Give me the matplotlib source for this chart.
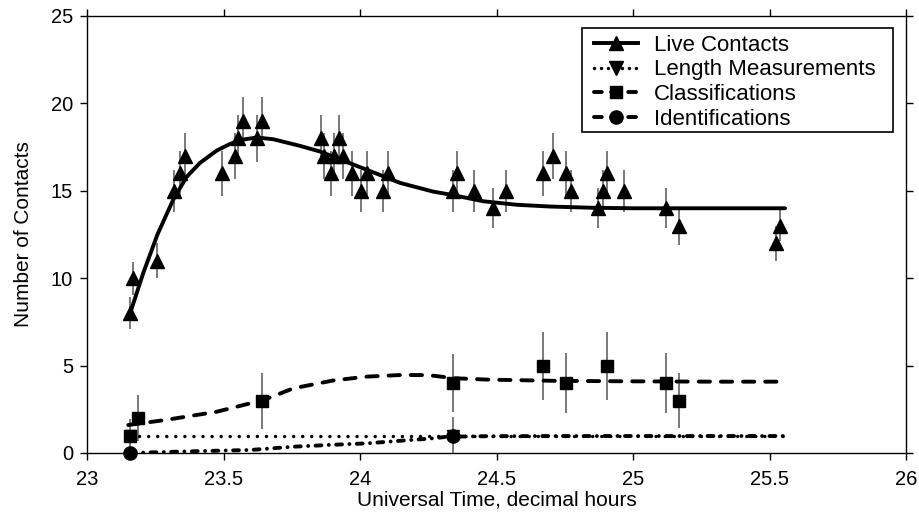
import matplotlib
matplotlib.use('Agg')
from matplotlib import pyplot as plt
from matplotlib.lines import Line2D
from matplotlib.patches import Rectangle

plt.rcParams['font.family'] = ['Liberation Sans', 'DejaVu Sans']

# Live contacts
live_t = [23.158, 23.170, 23.258, 23.319, 23.341, 23.359, 23.493, 23.542,
          23.554, 23.573, 23.624, 23.640, 23.856, 23.868, 23.893, 23.905,
          23.923, 23.938, 23.970, 24.004, 24.025, 24.084, 24.103, 24.340,
          24.354, 24.418, 24.487, 24.535, 24.669, 24.706, 24.755, 24.773,
          24.871, 24.889, 24.904, 24.968, 25.121, 25.170, 25.523, 25.538]
live_n = [8, 10, 11, 15, 16, 17, 16, 17, 18, 19, 18, 19, 18, 17, 16, 17,
          18, 17, 16, 15, 16, 15, 16, 15, 16, 15, 14, 15, 16, 17, 16, 15,
          14, 15, 16, 15, 14, 13, 12, 13]
live_err = [0.9, 0.95, 1.0, 1.2, 1.28, 1.3, 1.28, 1.3, 1.35, 1.38, 1.35, 1.38,
            1.35, 1.3, 1.28, 1.3, 1.35, 1.3, 1.28, 1.2, 1.28, 1.2, 1.28, 1.2,
            1.28, 1.2, 1.15, 1.2, 1.28, 1.3, 1.28, 1.2, 1.15, 1.2, 1.28, 1.2,
            1.15, 1.1, 1.0, 0.9]

# Length measurements
length_t = [23.158, 24.340]
length_n = [1, 1]

# Classifications
class_t = [23.158, 23.188, 23.641, 24.340, 24.669, 24.755, 24.904, 25.121, 25.170]
class_n = [1, 2, 3, 4, 5, 4, 5, 4, 3]
class_err = [0.95, 1.3, 1.6, 1.65, 1.95, 1.7, 1.95, 1.7, 1.55]

# Identifications
ident_t = [23.158, 24.340]
ident_n = [0, 1]
ident_err = [0.0, 1.05]

# fitted curves
live_fit_t = [23.158, 23.206, 23.258, 23.316, 23.365, 23.414, 23.475, 23.520,
              23.560, 23.622, 23.682, 23.780, 23.853, 23.902, 24.025, 24.147,
              24.269, 24.342, 24.452, 24.574, 24.696, 24.85, 25.0, 25.2,
              25.4, 25.557]
live_fit_n = [8.0, 10.3, 12.5, 14.5, 15.8, 16.6, 17.3, 17.65, 17.9, 18.05,
              17.95, 17.57, 17.25, 16.95, 16.2, 15.45, 14.95, 14.75, 14.4,
              14.2, 14.1, 14.03, 14.0, 14.0, 14.0, 14.0]

length_fit_t = [23.158, 25.55]
length_fit_n = [1.0, 1.0]

class_fit_t = [23.151, 23.292, 23.475, 23.646, 23.756, 23.902, 24.025, 24.147,
               24.22, 24.269, 24.342, 24.464, 24.708, 25.0, 25.3, 25.563]
class_fit_n = [1.6, 1.9, 2.36, 3.03, 3.7, 4.15, 4.37, 4.46, 4.46, 4.42, 4.28,
               4.2, 4.13, 4.1, 4.08, 4.08]

ident_fit_t = [23.157, 23.414, 23.597, 23.756, 23.90, 24.025, 24.147, 24.269,
               24.318, 24.45, 24.7, 25.0, 25.3, 25.55]
ident_fit_n = [0.0, 0.11, 0.17, 0.36, 0.47, 0.55, 0.70, 0.84, 0.93, 0.96,
               0.97, 0.97, 0.97, 0.97]

x_ticks = [23, 23.5, 24, 24.5, 25, 25.5, 26]
x_labels = ['23', '23.5', '24', '24.5', '25', '25.5', '26']
y_ticks = [0, 5, 10, 15, 20, 25]

BAR = '#555555'

fig = plt.figure(figsize=(9.2, 5.16), dpi=100)
ax = fig.add_axes([0.0946, 0.1221, 0.8902, 0.8469])

# error bars first, behind everything
ax.errorbar(live_t, live_n, yerr=live_err, fmt='none', ecolor=BAR,
            elinewidth=1.1, capsize=0, zorder=1)
ax.errorbar(class_t, class_n, yerr=class_err, fmt='none', ecolor=BAR,
            elinewidth=1.1, capsize=0, zorder=1)
ax.errorbar(ident_t, ident_n, yerr=ident_err, fmt='none', ecolor=BAR,
            elinewidth=1.1, capsize=0, zorder=1)

# curves
ax.plot(live_fit_t, live_fit_n, '-', color='k', lw=2.8,
        solid_capstyle='round', solid_joinstyle='round', zorder=2)
ax.plot(length_fit_t, length_fit_n, color='k', lw=2.5,
        linestyle=(0, (0.01, 2.6)), dash_capstyle='round', zorder=2)
ax.plot(class_fit_t, class_fit_n, color='k', lw=2.8,
        linestyle=(0, (2.9, 2.8)), dash_capstyle='round', zorder=2)
ax.plot(ident_fit_t, ident_fit_n, color='k', lw=2.8,
        linestyle=(0, (1.5, 1.9, 0.01, 1.9)), dash_capstyle='round', zorder=2)

# markers
ax.plot(live_t, live_n, '^', color='k', ms=10.5, ls='none', zorder=3)
ax.plot(length_t, length_n, 'v', color='k', ms=9, ls='none', zorder=3)
ax.plot(class_t, class_n, 's', color='k', ms=8.6, ls='none', zorder=4)
ax.plot(ident_t, ident_n, 'o', color='k', ms=9.5, ls='none', zorder=5,
        clip_on=False)

ax.set_xlim(23, 26)
ax.set_ylim(0, 25)
ax.set_xticks(x_ticks)
ax.set_xticklabels(x_labels)
ax.set_yticks(y_ticks)
ax.tick_params(direction='out', length=5, width=1, labelsize=14.5,
               top=True, right=True, labeltop=False, labelright=False)
ax.tick_params(axis='x', pad=7)
ax.tick_params(axis='y', pad=5)
for s in ax.spines.values():
    s.set_linewidth(1)

ax.set_xlabel('Universal Time, decimal hours', fontsize=15, labelpad=1)
ax.set_ylabel('Number of Contacts', fontsize=15, labelpad=13)

# legend box drawn separately so it can be a little wider than the text
ax.add_patch(Rectangle((0.6044, 0.7346), 0.3797, 0.2379,
                       transform=ax.transAxes, facecolor='white',
                       edgecolor='k', lw=1.2, zorder=6))

handles = [
    Line2D([], [], color='k', lw=2.8, marker='^', ms=10.5),
    Line2D([], [], color='k', lw=2.5, linestyle=(0, (0.01, 2.0)),
           dash_capstyle='round', marker='v', ms=10.5),
    Line2D([], [], color='k', lw=2.8, linestyle=(0, (2.0, 2.4)),
           dash_capstyle='round', marker='s', ms=8.6),
    Line2D([], [], color='k', lw=2.8, linestyle=(0, (2.0, 2.4)),
           dash_capstyle='round', marker='o', ms=9.5),
]
labels = ['Live Contacts', 'Length Measurements', 'Classifications',
          'Identifications']
leg = ax.legend(handles, labels, loc='upper left',
                bbox_to_anchor=(0.6105, 0.9725), borderaxespad=0,
                fontsize=16, frameon=False, handlelength=2.0,
                handletextpad=0.7, borderpad=0.3, labelspacing=0.17)
leg.set_zorder(7)

fig.savefig('out.png', dpi=100)
